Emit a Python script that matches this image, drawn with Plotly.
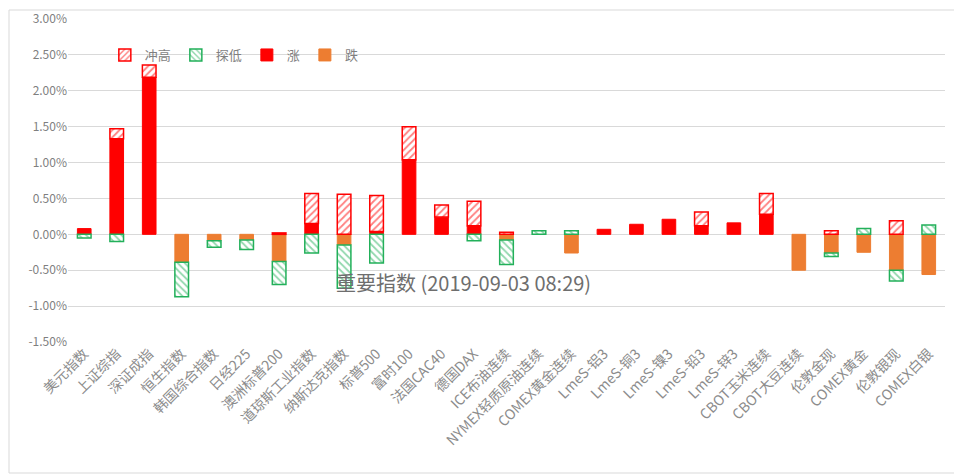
import plotly.graph_objects as go

categories = ["美元指数", "上证综指", "深证成指", "恒生指数", "韩国综合指数", "日经225", "澳洲标普200",
              "道琼斯工业指数", "纳斯达克指数", "标普500", "富时100", "法国CAC40", "德国DAX",
              "ICE布油连续", "NYMEX轻质原油连续", "COMEX黄金连续", "LmeS-铝3", "LmeS-铜3",
              "LmeS-镍3", "LmeS-铅3", "LmeS-锌3", "CBOT玉米连续", "CBOT大豆连续", "伦敦金现",
              "COMEX黄金", "伦敦银现", "COMEX白银"]

rise = [0.08, 1.33, 2.19, 0, 0, 0, 0, 0.15, 0, 0.04, 1.04, 0.24, 0.12, 0, 0, 0, 0.07, 0.14,
        0.21, 0.12, 0.16, 0.28, 0, 0, 0, 0, 0]
fall = [0, 0, 0, -0.39, -0.09, -0.08, -0.38, 0, -0.15, 0, 0, 0, 0, -0.08, 0, -0.26, 0, 0,
        0, 0, 0, 0, -0.50, -0.26, -0.25, -0.50, -0.56]
high_extra = [0, 0.14, 0.17, 0, 0, 0, 0.02, 0.42, 0.56, 0.50, 0.46, 0.17, 0.34, 0.03, 0, 0, 0, 0,
              0, 0.19, 0, 0.29, 0, 0.05, 0, 0.19, 0]
low_extra = [-0.05, -0.10, 0, -0.48, -0.09, -0.13, -0.32, -0.26, -0.60, -0.40, 0, 0, -0.09, -0.34,
             0.05, 0.05, 0, 0, 0, 0, 0, 0, 0, -0.05, 0.08, -0.15, 0.13]

y_ticks = [-1.5, -1.0, -0.5, 0.0, 0.5, 1.0, 1.5, 2.0, 2.5, 3.0]
title_text = "重要指数 (2019-09-03 08:29)"


def nz(vals):
    return [v if v != 0 else None for v in vals]


RED = "#FF0000"
ORANGE = "#ED7D31"
GREEN = "#22B05A"
FONT = "Noto Sans CJK SC"

fig = go.Figure()
fig.add_trace(go.Bar(x=categories, y=nz(rise), name="涨", legendrank=3,
                     marker=dict(color=RED, line=dict(color=RED, width=1))))
fig.add_trace(go.Bar(x=categories, y=nz(fall), name="跌", legendrank=4,
                     marker=dict(color=ORANGE, line=dict(color=ORANGE, width=1))))
fig.add_trace(go.Bar(x=categories, y=nz(high_extra), name="冲高", legendrank=1,
                     marker=dict(color="white", line=dict(color=RED, width=1.5),
                                 pattern=dict(shape="/", fgcolor=RED, bgcolor="white",
                                              size=5, solidity=0.35))))
fig.add_trace(go.Bar(x=categories, y=nz(low_extra), name="探低", legendrank=2,
                     marker=dict(color="white", line=dict(color=GREEN, width=1.5),
                                 pattern=dict(shape="\\", fgcolor=GREEN, bgcolor="white",
                                              size=5, solidity=0.35))))

fig.update_layout(
    width=962, height=476,
    barmode="relative", bargap=0.58,
    margin=dict(l=60, r=25, t=11, b=142),
    paper_bgcolor="white", plot_bgcolor="white",
    font=dict(family=FONT, color="#7F7F7F", size=12),
    showlegend=True,
    legend=dict(orientation="h", x=0.042, y=0.935, xanchor="left", yanchor="top",
                bgcolor="rgba(0,0,0,0)", font=dict(size=13, color="#7F7F7F"),
                traceorder="normal", itemwidth=30),
    annotations=[dict(text=title_text, xref="paper", yref="paper", x=0.4515, y=0.183,
                      xanchor="center", yanchor="middle", showarrow=False,
                      font=dict(family=FONT, size=20, color="#6E6E6E"))],
    shapes=[dict(type="rect", xref="paper", yref="paper",
                 x0=-59 / 877, x1=1 + 40 / 877, y0=-131 / 323, y1=1 + 9 / 323,
                 line=dict(color="#D9D9D9", width=1), fillcolor="rgba(0,0,0,0)", layer="below")],
)
fig.update_xaxes(tickangle=-45, tickfont=dict(size=14, color="#8C8C8C"), showgrid=False,
                 showline=False, ticks="", automargin=False)
fig.update_yaxes(range=[-1.5, 3.0], tickvals=y_ticks,
                 ticktext=[f"{v:.2f}%" for v in y_ticks],
                 showgrid=True, gridcolor="#D9D9D9", gridwidth=1, zeroline=True,
                 zerolinecolor="#D9D9D9", zerolinewidth=1, showline=False,
                 tickfont=dict(size=12, color="#7F7F7F"), automargin=False)

fig.write_html("out.html")
